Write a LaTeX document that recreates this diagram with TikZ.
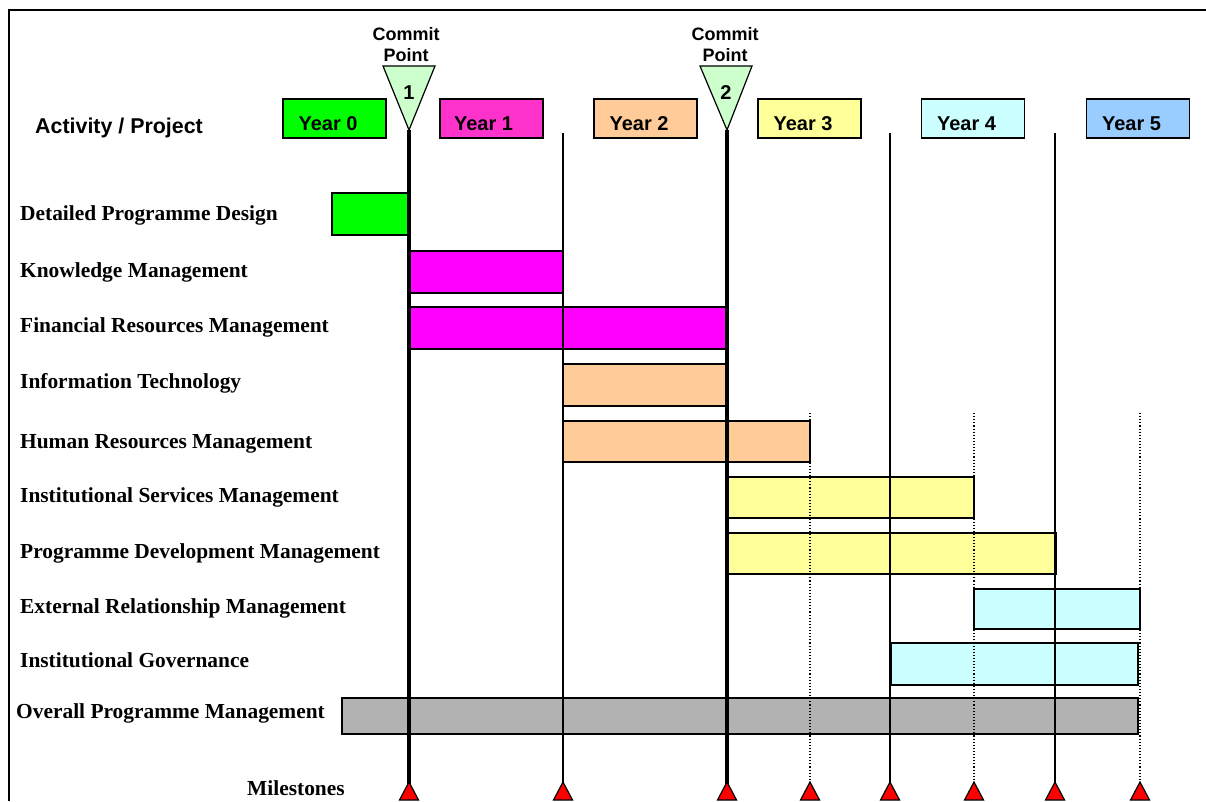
\documentclass[tikz,border=0pt]{standalone}
\usepackage{fontspec}
\setmainfont{Liberation Serif}
\newfontfamily\arialf{Liberation Sans}
\definecolor{cgreen}{HTML}{00FF00}
\definecolor{cpink}{HTML}{FF33CC}
\definecolor{cmag}{HTML}{FF00FF}
\definecolor{cpeach}{HTML}{FFCC99}
\definecolor{cyell}{HTML}{FFFF99}
\definecolor{ccyan}{HTML}{CCFFFF}
\definecolor{cblue}{HTML}{99CCFF}
\definecolor{cgray}{HTML}{B2B2B2}
\definecolor{ccommit}{HTML}{CCFFCC}
\newcommand{\yeartext}[2]{#1\kern#2pt}
\begin{document}
\begin{tikzpicture}[x=1pt,y=-1pt,
  yearbox/.style={draw, line width=1.3pt, minimum width=103pt, minimum height=39pt, inner sep=0pt, text height=24pt, text depth=0pt, font=\arialf\bfseries\fontsize{20}{22}\selectfont},
  bar/.style={draw, line width=1.3pt},
  lbl/.style={anchor=base west, inner sep=0pt, font=\bfseries\fontsize{21.4}{24}\selectfont},
  hdr/.style={inner sep=0pt, font=\arialf\bfseries\fontsize{21.4}{24}\selectfont},
  commit/.style={draw, line width=1.2pt, fill=ccommit},
  cptext/.style={align=center, inner sep=0pt, font=\arialf\bfseries\fontsize{18}{21}\selectfont},
  cpnum/.style={inner sep=0pt, font=\arialf\bfseries\fontsize{20}{22}\selectfont},
  thickline/.style={line width=3.5pt},
  thinline/.style={line width=1.2pt},
  dotline/.style={line width=1.1pt, dotted},
  milestone/.style={draw, line width=1.2pt, fill=red}
]
\useasboundingbox (0,0) rectangle (1206,801);
% frame
\draw[line width=1.5pt] (9,801) -- (9,10) -- (1206,10);

% header
\node[hdr, anchor=base west] (hdr) at (35,133) {Activity / Project};
\node[yearbox, fill=cgreen] (y0) at (334.5,118.5) {\yeartext{Year 0}{13}};
\node[yearbox, fill=cpink]  (y1) at (491.5,118.5) {\yeartext{Year 1}{16}};
\node[yearbox, fill=cpeach] (y2) at (645.5,118.5) {\yeartext{Year 2}{13}};
\node[yearbox, fill=cyell]  (y3) at (809.5,118.5) {\yeartext{Year 3}{13}};
\node[yearbox, fill=ccyan]  (y4) at (973,118.5)   {\yeartext{Year 4}{13}};
\node[yearbox, fill=cblue]  (y5) at (1138,118.5)  {\yeartext{Year 5}{13}};

% commit points
\draw[commit] (383,66) -- (435,66) -- (409,130) -- cycle;
\node[cpnum] (c1) at (409,93) {1};
\node[cptext, anchor=base] (cp1) at (406,61) {Commit\\Point};
\draw[commit] (700,66) -- (752,66) -- (727,130) -- cycle;
\node[cpnum] (c2) at (726,93) {2};
\node[cptext, anchor=base] (cp2) at (725,61) {Commit\\Point};

% labels
\node[lbl] (l1) at (20,220) {Detailed Programme Design};
\node[lbl] (l2) at (20,277) {Knowledge Management};
\node[lbl] (l3) at (20,332) {Financial Resources Management};
\node[lbl] (l4) at (20,388) {Information Technology};
\node[lbl] (l5) at (20,448) {Human Resources Management};
\node[lbl] (l6) at (20,502) {Institutional Services Management};
\node[lbl] (l7) at (20,558) {Programme Development Management};
\node[lbl] (l8) at (20,613) {External Relationship Management};
\node[lbl] (l9) at (20,667) {Institutional Governance};
\node[lbl] (l10) at (16,718) {Overall Programme Management};
\node[lbl] (ms) at (247,795) {Milestones};

% bars
\draw[bar, fill=cgreen] (332,193) rectangle (409,235);
\draw[bar, fill=cmag]   (409,251) rectangle (563,293);
\draw[bar, fill=cmag]   (409,307) rectangle (727,349);
\draw[bar, fill=cpeach] (563,364) rectangle (727,406);
\draw[bar, fill=cpeach] (563,421) rectangle (810,462);
\draw[bar, fill=cyell]  (727,477) rectangle (974,518);
\draw[bar, fill=cyell]  (727,533) rectangle (1056,574);
\draw[bar, fill=ccyan]  (974,589) rectangle (1140,629);
\draw[bar, fill=ccyan]  (891,643) rectangle (1138,685);
\draw[bar, fill=cgray]  (342,698) rectangle (1138,734);

% grid lines
\draw[thickline] (409,130) -- (409,785);
\draw[thickline] (727,130) -- (727,785);
\foreach \x in {563,890,1055} \draw[thinline] (\x,133) -- (\x,785);
\foreach \x in {810,974,1140} \draw[dotline] (\x,413) -- (\x,785);

% milestones
\foreach \x in {409,563,727,810,890,974,1055,1140}
  \draw[milestone] (\x-9.5,800) -- (\x+9.5,800) -- (\x,782) -- cycle;
\end{tikzpicture}
\end{document}
